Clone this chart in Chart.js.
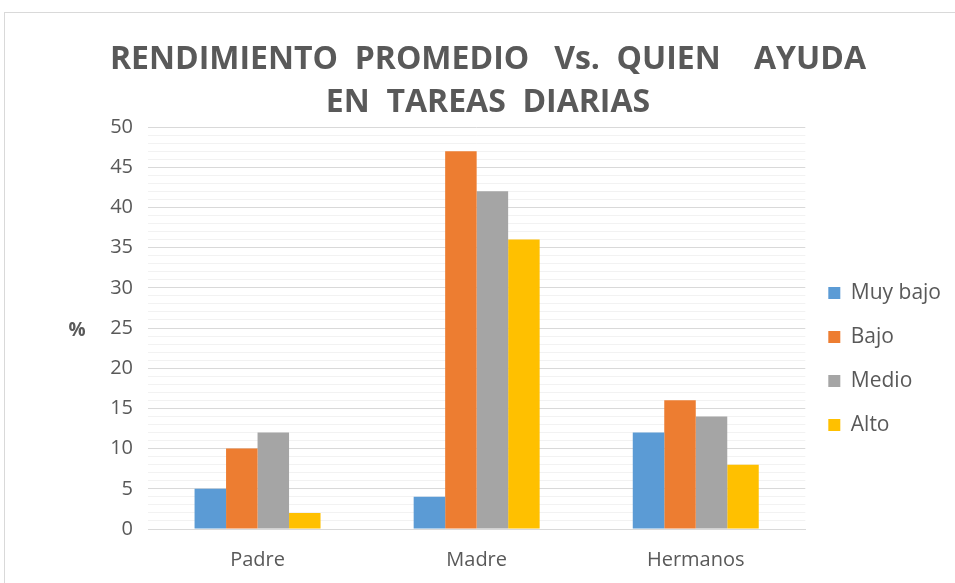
<!DOCTYPE html>
<html>
<head>
<meta charset="utf-8">
<script src="https://cdn.jsdelivr.net/npm/chart.js@4.4.1/dist/chart.umd.min.js"></script>
<style>
  html, body { margin: 0; padding: 0; background: #fff; overflow: hidden; }
  #frame {
    position: absolute; left: 4px; top: 12px;
    width: 960px; height: 580px;
    border: 1px solid #d9d9d9;
    background: #fff;
  }
  #wrap { position: absolute; left: 0; top: 0; width: 950px; height: 570px; }
</style>
</head>
<body>
<div id="frame"><div id="wrap"><canvas id="chart"></canvas></div></div>
<script>
// --- DATA ---
const categories = ['Padre', 'Madre', 'Hermanos'];
const muyBajo = [5, 4, 12];
const bajo = [10, 47, 16];
const medio = [12, 42, 14];
const alto = [2, 36, 8];
const titleLines = ['RENDIMIENTO  PROMEDIO   Vs.  QUIEN    AYUDA', 'EN  TAREAS  DIARIAS'];
const yTitle = '%';

const TEXT = '#595959';

// horizontal "%" beside the y axis
const yTitlePlugin = {
    id: 'yTitle',
    afterDraw(chart) {
        const { ctx, chartArea } = chart;
        ctx.save();
        ctx.font = 'bold 19px "Open Sans"';
        ctx.fillStyle = TEXT;
        ctx.textAlign = 'center';
        ctx.textBaseline = 'middle';
        ctx.fillText(yTitle, 72, (chartArea.top + chartArea.bottom) / 2 + 3);
        ctx.restore();
    }
};

const ctx = document.getElementById('chart').getContext('2d');
new Chart(ctx, {
    type: 'bar',
    data: {
        labels: categories,
        datasets: [
            { label: 'Muy bajo', data: muyBajo, backgroundColor: '#5B9BD5' },
            { label: 'Bajo', data: bajo, backgroundColor: '#ED7D31' },
            { label: 'Medio', data: medio, backgroundColor: '#A5A5A5' },
            { label: 'Alto', data: alto, backgroundColor: '#FFC000' }
        ]
    },
    options: {
        responsive: true,
        maintainAspectRatio: false,
        animation: false,
        datasets: { bar: { categoryPercentage: 0.575, barPercentage: 1 } },
        layout: { padding: { left: 20, right: 4, top: 0, bottom: 0 } },
        plugins: {
            title: {
                display: true,
                text: titleLines,
                color: TEXT,
                font: { family: '"Open Sans"', size: 32, weight: 'bold', lineHeight: 1.36 },
                padding: { top: 25, bottom: 2 }
            },
            legend: {
                position: 'right',
                title: { display: true, text: '', font: { size: 10 }, padding: { top: 0, bottom: 110 } },
                labels: {
                    boxWidth: 12, boxHeight: 12,
                    padding: 23,
                    color: TEXT,
                    font: { family: '"Open Sans"', size: 21 }
                }
            },
            tooltip: { enabled: false }
        },
        scales: {
            x: {
                grid: { display: false },
                border: { color: '#d9d9d9' },
                ticks: { color: TEXT, font: { family: '"Open Sans"', size: 20 }, padding: 11 }
            },
            y: {
                min: 0, max: 50,
                afterFit: (axis) => { axis.width = 123; },
                border: { display: false },
                grid: {
                    color: (c) => (c.tick && c.tick.value % 5 === 0) ? '#d9d9d9' : '#f2f2f2',
                    drawTicks: false
                },
                ticks: {
                    stepSize: 1,
                    autoSkip: false,
                    padding: 15,
                    color: TEXT,
                    font: { family: '"Open Sans"', size: 20 },
                    callback: (v) => v % 5 === 0 ? v : ''
                }
            }
        }
    },
    plugins: [yTitlePlugin]
});
</script>
</body>
</html>
